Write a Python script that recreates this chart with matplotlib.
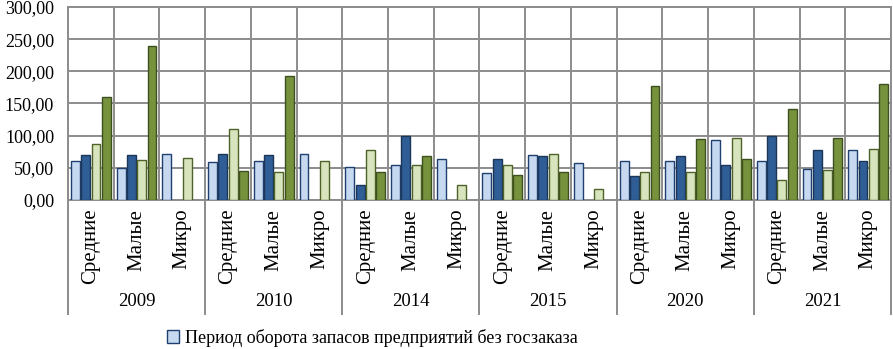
import numpy as np
import matplotlib
matplotlib.use("Agg")
import matplotlib.pyplot as plt
from matplotlib.transforms import blended_transform_factory
from matplotlib.patches import Patch

years = ["2009", "2010", "2014", "2015", "2020", "2021"]
sizes = ["Средние", "Малые", "Микро"]
nan = np.nan

# series (order: years x sizes)
light_blue = [60, 50, 72, 59, 60, 71, 52, 54, 63, 42, 70, 57, 61, 61, 94, 61, 48, 78]
dark_blue = [70, 70, nan, 72, 70, nan, 23, 100, nan, 63, 68, nan, 37, 68, 55, 99, 78, 60]
light_green = [87, 62, 65, 110, 44, 60, 77, 54, 23, 55, 72, 17, 43, 44, 97, 31, 46, 80]
dark_green = [160, 240, nan, 45, 193, nan, 43, 68, nan, 39, 44, nan, 177, 95, 63, 141, 97, 181]

legend_label = "Период оборота запасов предприятий без госзаказа"

series = [
    (light_blue, "#C6D9F1", "#1F3F6E"),
    (dark_blue, "#2F5D95", "#1B3658"),
    (light_green, "#D7E4BD", "#4F6228"),
    (dark_green, "#76923C", "#3F5020"),
]

plt.rcParams['font.family'] = ['Liberation Serif', 'DejaVu Serif']

W, H = 893, 349
fig = plt.figure(figsize=(W / 100, H / 100), dpi=100)
ax = fig.add_axes([68 / W, 1 - 200 / H, (891 - 68) / W, (200 - 7) / H])

n = len(light_blue)
x = np.arange(n) + 0.5
step = 0.225
width = 0.195
for k, (vals, fc, ec) in enumerate(series):
    ax.bar(x + (k - 1.5) * step, vals, width=width, color=fc, edgecolor=ec,
           linewidth=1.0, zorder=3)

ax.set_xlim(0, n)
ax.set_ylim(0, 300)
ax.set_yticks(np.arange(0, 301, 50))
ax.set_yticklabels([f"{v:.2f}".replace(".", ",") for v in np.arange(0, 301, 50)],
                   fontsize=13)
ax.set_xticks(np.arange(0, n + 1))
ax.set_xticklabels([])
ax.tick_params(axis='x', length=0)
ax.tick_params(axis='y', length=0, pad=10)
grid_c = "#8C8C8C"
ax.grid(True, color=grid_c, linewidth=1.4, zorder=0)
for s in ax.spines.values():
    s.set_color(grid_c)
    s.set_linewidth(1.4)

trans = blended_transform_factory(ax.transData, ax.transAxes)
for i in range(n):
    ax.text(i + 0.5, -0.045, sizes[i % 3], rotation=90, ha='center', va='top',
            fontsize=15, transform=trans)
for j, yr in enumerate(years):
    ax.text(j * 3 + 1.5, -0.528, yr, ha='center', va='center', fontsize=13.5,
            transform=trans)
for j in range(len(years) + 1):
    ax.plot([j * 3, j * 3], [0, -0.59], color=grid_c, linewidth=1.4,
            transform=trans, clip_on=False)

handle = Patch(facecolor="#C6D9F1", edgecolor="#1F3F6E", linewidth=1.0)
fig.legend([handle], [legend_label], loc='center', bbox_to_anchor=(372 / W, 1 - 338 / H),
           frameon=False, fontsize=13, handlelength=0.7, handleheight=0.7,
           handletextpad=0.3)

fig.savefig("out.png", dpi=100)
